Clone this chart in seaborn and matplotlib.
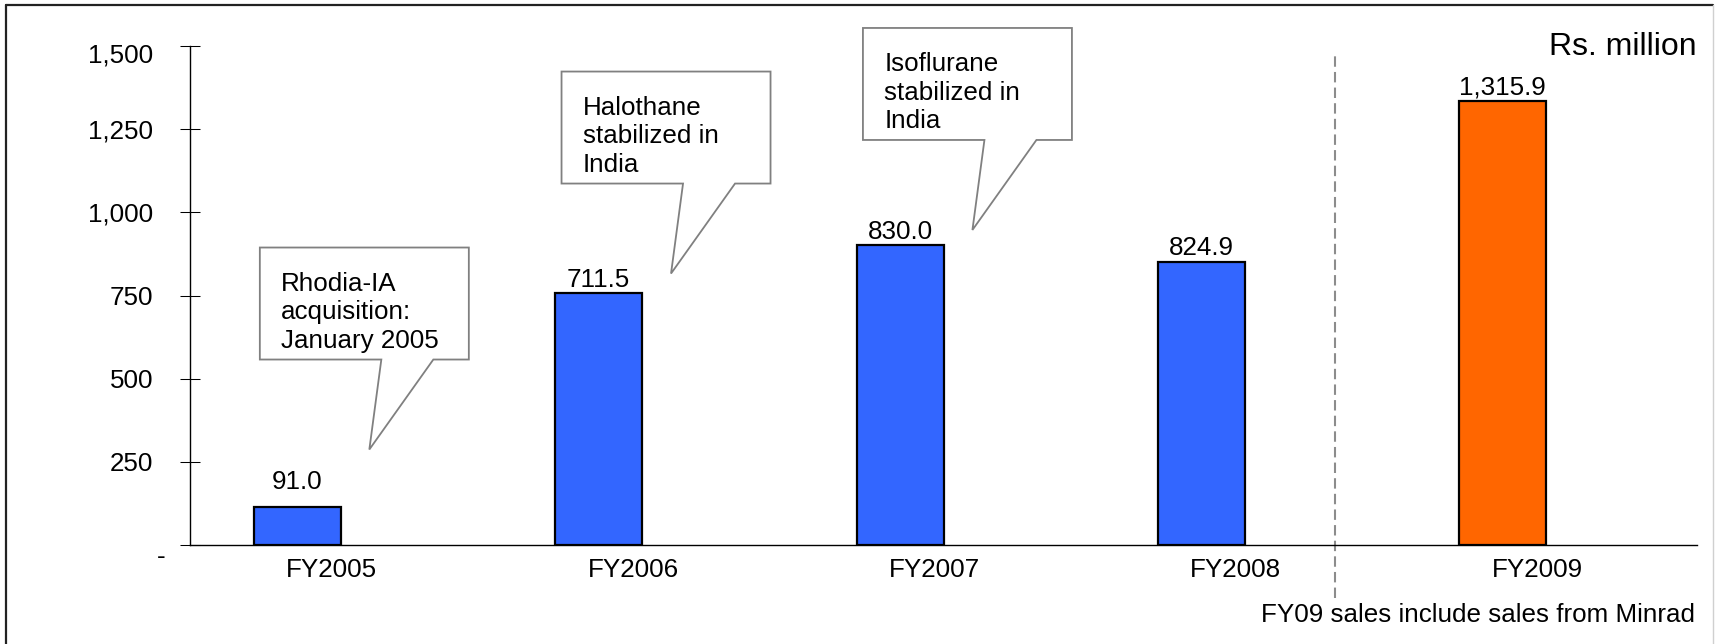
import matplotlib.pyplot as plt
import matplotlib.transforms as mtransforms
import pandas as pd
import seaborn as sns
from matplotlib.lines import Line2D
from matplotlib.patches import Polygon

# values
years = ["FY2005", "FY2006", "FY2007", "FY2008", "FY2009"]
bar_heights = [113.7, 757.1, 901.5, 851.3, 1335.4]   # height of each drawn bar
sales_labels = [91.0, 711.5, 830.0, 824.9, 1315.9]   # value printed on each bar
y_ticks = [0, 250, 500, 750, 1000, 1250, 1500]

callout_texts = ["Rhodia-IA\nacquisition:\nJanuary 2005",
                 "Halothane\nstabilized in\nIndia",
                 "Isoflurane\nstabilized in\nIndia"]
callout_tips = [(0.095, 287), (1.096, 816), (2.096, 947)]

BLUE = "#3366FF"
ORANGE = "#FF6600"
W, H = 1718, 644

sns.set_style("white")
plt.rcParams["font.family"] = ["Liberation Sans", "DejaVu Sans"]
plt.rcParams["text.color"] = "black"
plt.rcParams["xtick.color"] = "black"
plt.rcParams["ytick.color"] = "black"
FS = 18.7

fig = plt.figure(figsize=(W / 100, H / 100), dpi=100)
ax = fig.add_axes([190 / W, 1 - 545 / H, 1507 / W, 499 / H])

# hidden second slot keeps the bars left of the category centre
df = pd.DataFrame({
    "year": years * 2,
    "value": bar_heights + [0] * len(years),
    "slot": ["sales"] * len(years) + ["blank"] * len(years),
})
sns.barplot(data=df, x="year", y="value", hue="slot", order=years,
            hue_order=["sales", "blank"],
            palette={"sales": BLUE, "blank": "white"}, saturation=1,
            width=0.577, edgecolor="black", linewidth=1.6,
            errorbar=None, legend=False, ax=ax)

for p in ax.containers[1]:
    p.set_visible(False)
ax.containers[0][4].set_facecolor(ORANGE)

pads = [18, 6.5, 6.5, 6.5, 6.5]
for bar, lab, pad in zip(ax.containers[0], sales_labels, pads):
    ax.annotate(f"{lab:,.1f}", (bar.get_x() + bar.get_width() / 2, bar.get_height()),
                xytext=(0, pad), textcoords="offset pixels",
                ha="center", va="baseline", fontsize=FS)

ax.set_ylim(0, 1500)
ax.set_xlim(-0.5, 4.5)
ax.set_yticks(y_ticks)
ax.set_yticklabels(["-"] + [f"{v:,}" for v in y_ticks[1:]])
ax.set_xlabel("")
ax.set_ylabel("")
sns.despine(ax=ax)
for s in ["left", "bottom"]:
    ax.spines[s].set_color("black")
    ax.spines[s].set_linewidth(1)
ax.tick_params(axis="y", left=True, direction="inout", length=13.7, width=0.75,
               color="black", pad=19.8, labelsize=FS, labelcolor="black")
ax.tick_params(axis="x", bottom=False, length=0, pad=9.3, labelsize=FS,
               labelcolor="black")


def nudge(label, dx, dy):
    label.set_transform(label.get_transform() +
                        mtransforms.ScaledTranslation(dx / 100, dy / 100, fig.dpi_scale_trans))


for lab in ax.get_xticklabels():
    nudge(lab, -9, 0)
ylabs = ax.get_yticklabels()
nudge(ylabs[-1], 0, -7)
nudge(ylabs[0], 13, -10)

# dashed divider before FY2009
ax.plot([3.3, 3.3], [-0.106, 0.9866], color="#8c8c8c", lw=1.5,
        ls=(0, (5, 2.5)), transform=ax.get_xaxis_transform(), clip_on=False)

# callout boxes, shape in pixels relative to the tip
shape = [(0, 0), (12, 90), (-109.5, 90), (-109.5, 202), (99.5, 202),
         (99.5, 90), (64, 90)]
for text, tip in zip(callout_texts, callout_tips):
    trans = mtransforms.Affine2D() + mtransforms.ScaledTranslation(tip[0], tip[1], ax.transData)
    poly = Polygon(shape, closed=True, facecolor="white", edgecolor="#808080",
                   lw=1.3, transform=trans, zorder=5, clip_on=False)
    ax.add_artist(poly)
    ax.annotate(text, tip, xytext=(-88, 101.5), textcoords="offset pixels",
                ha="left", va="baseline", fontsize=FS, linespacing=1.25,
                zorder=6, annotation_clip=False)

fig.text(1697 / W, 1 - 55 / H, "Rs. million", ha="right", va="baseline", fontsize=23)
fig.text(1695 / W, 1 - 622 / H, "FY09 sales include sales from Minrad",
         ha="right", va="baseline", fontsize=FS)

# outer frame
fig.add_artist(Line2D([6 / W, 6 / W], [0, 1 - 5 / H], color="#222222", lw=1.6,
                      transform=fig.transFigure))
fig.add_artist(Line2D([6 / W, 1713 / W], [1 - 5 / H, 1 - 5 / H], color="#222222", lw=1.6,
                      transform=fig.transFigure))
fig.add_artist(Line2D([1713 / W, 1713 / W], [0, 1 - 5 / H], color="#d0d0d0", lw=1,
                      transform=fig.transFigure))

fig.savefig("out.png", dpi=100)
